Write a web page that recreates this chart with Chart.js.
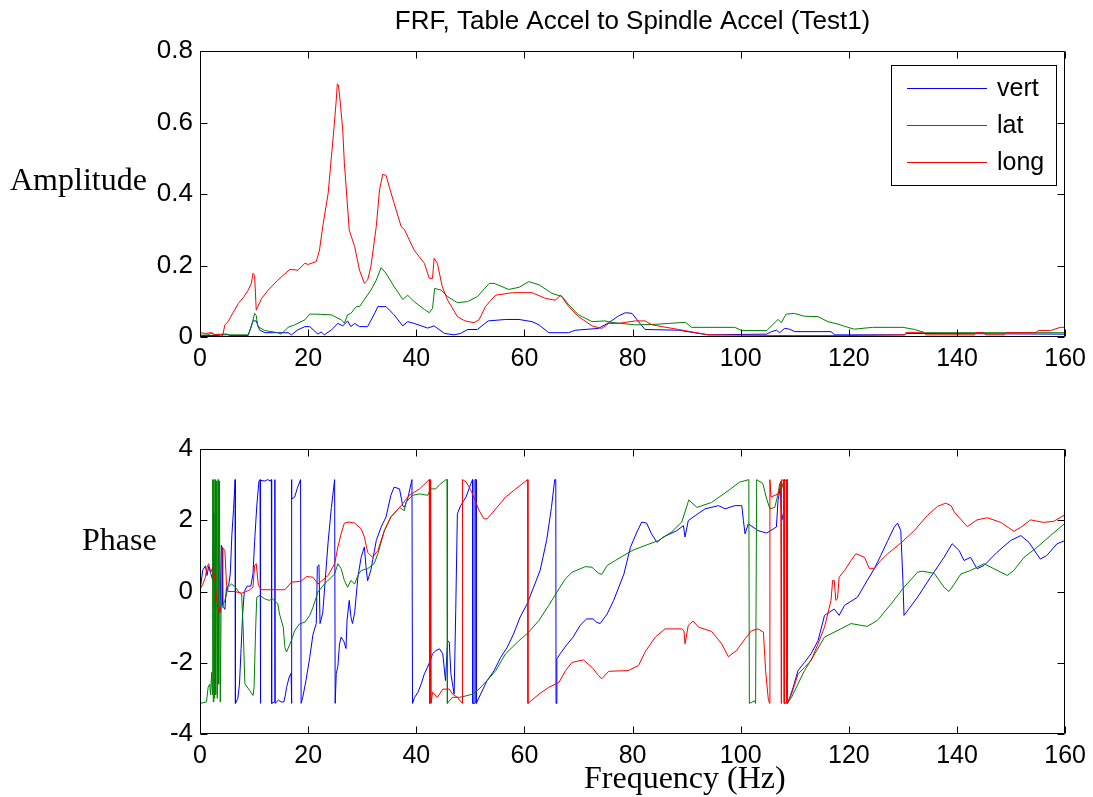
<!DOCTYPE html>
<html>
<head>
<meta charset="utf-8">
<script src="https://cdn.jsdelivr.net/npm/chart.js@4.4.1/dist/chart.umd.min.js"></script>
<style>
  html, body { margin: 0; padding: 0; background: #fff; }
  #wrap { position: relative; width: 1093px; height: 797px; overflow: hidden; background: #fff; }
  canvas { position: absolute; left: 0; }
  #c1 { top: 0; }
  #c2 { top: 400px; }
</style>
</head>
<body>
<div id="wrap">
  <canvas id="c1" width="1093" height="400"></canvas>
  <canvas id="c2" width="1093" height="397"></canvas>
</div>
<script>
// ---------- texts ----------
const chartTitle = 'FRF, Table Accel to Spindle Accel (Test1)';
const ampLabel = 'Amplitude';
const phaseLabel = 'Phase';
const freqLabel = 'Frequency (Hz)';
const seriesNames = ['vert', 'lat', 'long'];
const seriesColors = ['#0000ff', '#008000', '#ff0000'];

// ---------- axis ticks ----------
const freqTicks = [0, 20, 40, 60, 80, 100, 120, 140, 160];
const ampTicks = [0, 0.2, 0.4, 0.6, 0.8];
const phaseTicks = [-4, -2, 0, 2, 4];

// ---------- amplitude readings [Hz, amplitude] ----------
const ampVert = [[0,0.004],[3.5,0.004],[4.0,0.008],[5.0,0.008],[5.5,0.004],[8.9,0.004],[9.8,0.045],[10.4,0.045],[11.0,0.020],[12.0,0.012],[16.3,0.012],[16.9,0.006],[18.1,0.020],[19.4,0.029],[20.3,0.029],[21.8,0.008],[22.4,0.014],[23.0,0.006],[24.3,0.020],[25.5,0.038],[26.4,0.031],[27.3,0.045],[27.9,0.029],[28.6,0.038],[29.5,0.029],[31.0,0.029],[32.3,0.066],[32.9,0.085],[34.4,0.085],[35.9,0.062],[37.5,0.031],[38.4,0.043],[39.6,0.038],[42.1,0.025],[43.3,0.031],[45.2,0.010],[47.0,0.006],[48.2,0.010],[49.5,0.021],[51.3,0.021],[53.3,0.045],[56.5,0.049],[59.0,0.049],[61.4,0.043],[62.7,0.034],[64.5,0.012],[68.2,0.012],[69.4,0.019],[73.7,0.024],[75.6,0.040],[77.4,0.059],[78.7,0.068],[79.9,0.066],[81.1,0.043],[82.3,0.021],[88.5,0.019],[94.0,0.006],[104.8,0.008],[105.7,0.015],[106.6,0.019],[107.2,0.012],[108.1,0.024],[109.0,0.022],[110.0,0.015],[116.7,0.015],[117.4,0.006],[130.3,0.006],[130.6,0.010],[160,0.008]];
const ampLat = [[0,0.005],[1.5,0.006],[2.2,0.012],[2.8,0.006],[8.9,0.006],[9.5,0.029],[10.1,0.066],[10.4,0.060],[10.7,0.029],[12.0,0.018],[14.4,0.012],[15.0,0.008],[16.3,0.027],[17.5,0.034],[19.4,0.048],[20.3,0.064],[21.5,0.064],[24.3,0.062],[26.1,0.048],[26.7,0.039],[27.3,0.062],[27.9,0.066],[28.9,0.085],[29.5,0.085],[31.6,0.131],[32.6,0.159],[33.5,0.194],[34.4,0.178],[35.9,0.141],[37.5,0.105],[38.4,0.117],[39.6,0.099],[41.5,0.077],[42.4,0.068],[43.0,0.080],[43.4,0.136],[44.6,0.131],[45.8,0.113],[47.6,0.096],[49.5,0.099],[51.3,0.113],[53.5,0.150],[54.4,0.150],[57.1,0.133],[59.0,0.139],[60.8,0.155],[62.7,0.146],[65.1,0.122],[67.0,0.113],[68.2,0.090],[70.0,0.062],[72.5,0.043],[74.9,0.045],[76.0,0.041],[80.5,0.034],[84.9,0.036],[86.6,0.038],[89.8,0.041],[90.9,0.027],[98.9,0.027],[100.2,0.018],[104.8,0.018],[106.9,0.049],[107.5,0.040],[108.4,0.064],[109.9,0.066],[111.8,0.058],[114.3,0.057],[116.1,0.043],[118.0,0.036],[119.8,0.027],[121.0,0.022],[124.4,0.027],[130.0,0.027],[132.2,0.021],[134.0,0.012],[160,0.012]];
const ampLong = [[0,0.012],[1,0.010],[2,0.012],[2.5,0.006],[3.5,0.008],[4.2,0.004],[4.6,0.034],[5.2,0.043],[6.0,0.065],[7.1,0.094],[8.0,0.110],[8.9,0.131],[9.5,0.150],[9.8,0.178],[10.1,0.172],[10.4,0.075],[10.7,0.085],[11.4,0.108],[12.6,0.131],[14.4,0.159],[16.6,0.189],[18.1,0.187],[19.4,0.206],[20.0,0.203],[21.5,0.211],[22.1,0.243],[22.7,0.309],[23.7,0.402],[24.3,0.504],[24.8,0.588],[25.2,0.663],[25.4,0.708],[25.6,0.705],[25.9,0.663],[26.4,0.579],[26.7,0.486],[27.2,0.383],[27.6,0.299],[28.6,0.253],[29.5,0.187],[30.4,0.150],[31.0,0.159],[31.6,0.197],[32.6,0.309],[33.2,0.411],[33.8,0.455],[34.4,0.452],[35.0,0.420],[35.9,0.374],[37.2,0.309],[37.8,0.301],[39.6,0.243],[41.5,0.206],[42.4,0.164],[43.0,0.164],[43.3,0.220],[43.9,0.206],[44.8,0.141],[45.8,0.103],[47.6,0.057],[49.0,0.045],[50.7,0.040],[51.6,0.048],[52.8,0.085],[53.8,0.103],[54.7,0.117],[57.8,0.124],[61.4,0.124],[63.9,0.108],[65.7,0.103],[66.7,0.117],[68.2,0.085],[70.0,0.057],[72.5,0.031],[74.3,0.024],[75.6,0.038],[77.4,0.038],[80.5,0.045],[82.3,0.045],[83.6,0.034],[88.5,0.021],[94.0,0.006],[100,0.005],[110,0.004],[120,0.004],[130.3,0.006],[130.6,0.013],[133.9,0.013],[134.2,0.006],[143.2,0.006],[143.5,0.012],[145.0,0.012],[145.3,0.006],[148.7,0.006],[149.0,0.012],[154.5,0.012],[155.0,0.018],[157.3,0.018],[159.1,0.027],[160,0.027]];

// ---------- phase readings [Hz, rad] ----------
const phaseVert = [[0,0],[0.5,0.6],[1.0,0.72],[1.3,0.45],[1.6,0.7],[2.0,0.5],[2.4,0.3],[2.55,2.2],[2.65,-0.5],[3.1,-0.4],[3.5,-0.45],[3.7,-0.6],[3.95,1.3],[4.1,1.2],[4.2,-0.4],[4.6,-0.5],[4.9,0.12],[5.3,0.17],[5.6,0.5],[5.9,1.6],[6.2,2.3],[6.5,3.14],[6.55,-3.14],[7.0,-3.0],[7.3,-2.6],[7.6,-1.6],[7.9,-0.6],[8.2,0.0],[8.7,0.15],[9.4,0.15],[9.8,0.5],[10.1,1.4],[10.5,2.4],[10.9,3.1],[11.1,3.14],[11.15,-3.14],[11.25,3.12],[12.0,3.1],[12.5,3.14],[13.1,3.1],[13.2,3.14],[13.25,-3.14],[13.8,-3.1],[13.85,3.14],[13.9,-3.14],[14.5,-3.05],[15.0,-3.1],[15.5,-3.1],[15.8,-2.9],[16.0,-2.7],[16.5,-2.4],[16.85,-2.3],[16.9,-3.14],[16.95,3.14],[17.0,2.6],[17.5,2.65],[18.0,2.9],[18.6,3.14],[18.7,-3.14],[19.0,-2.97],[19.6,-2.5],[20.3,-1.85],[20.9,-1.2],[21.5,-0.9],[21.7,0.7],[22.0,0.75],[22.2,-0.9],[22.7,-0.6],[23.2,0.4],[23.7,1.4],[24.3,2.36],[24.9,3.14],[25.0,-3.14],[25.2,-2.3],[25.5,-2.1],[25.8,-1.47],[26.1,-1.28],[26.6,-1.4],[27.0,-1.6],[27.2,-0.8],[27.6,-0.25],[27.9,-0.7],[28.2,-0.9],[28.6,-0.6],[29.2,0.4],[29.8,0.96],[30.4,1.25],[30.7,0.7],[31.0,0.3],[31.6,0.6],[32.6,1.43],[33.5,1.81],[34.4,2.09],[35.3,2.7],[35.9,2.93],[36.9,2.88],[37.5,2.4],[37.8,2.36],[38.4,2.6],[39.2,3.14],[39.3,-3.14],[39.7,-2.97],[40.3,-2.83],[40.9,-2.6],[41.5,-2.31],[42.1,-2.12],[42.7,-1.89],[43.0,-1.75],[43.6,-1.66],[44.3,-1.61],[44.9,-1.75],[45.4,-2.5],[45.8,-1.38],[46.1,-1.42],[46.4,-2.31],[47.0,-2.88],[47.3,-0.5],[47.6,2.18],[48.2,2.41],[49.2,2.65],[50.1,3.03],[50.4,3.14],[50.45,-3.14],[50.8,-3.14],[50.85,3.14],[51.05,3.14],[51.1,-3.14],[51.9,-2.88],[53.1,-2.5],[54.4,-2.22],[55.6,-1.85],[56.8,-1.57],[58.0,-1.19],[59.2,-0.72],[60.5,-0.35],[61.7,0.12],[62.9,0.59],[64.1,1.43],[65.0,2.36],[65.6,3.14],[65.8,3.14],[65.85,-3.14],[66.0,-1.89],[66.6,-1.75],[67.8,-1.5],[69.0,-1.28],[70.3,-0.95],[71.5,-0.77],[72.7,-0.77],[73.3,-0.86],[74.0,-0.9],[75.3,-0.63],[76.5,-0.25],[78.4,0.49],[79.6,1.24],[80.8,1.67],[81.7,1.95],[82.6,1.92],[83.5,1.62],[84.5,1.38],[85.7,1.53],[88.2,1.71],[89.4,1.85],[89.7,1.53],[90.3,1.99],[91.6,2.13],[93.4,2.32],[95.9,2.41],[97.1,2.32],[98.9,2.41],[100.2,2.41],[100.5,1.99],[100.8,1.62],[101.4,1.9],[103.2,1.71],[104.8,1.64],[106.6,1.81],[106.9,2.55],[107.3,2.9],[107.6,2.0],[107.9,2.2],[108.0,3.14],[108.05,-3.14],[108.8,-3.1],[109.7,-2.69],[110.6,-2.22],[111.8,-1.99],[113.0,-1.75],[114.3,-1.38],[115.5,-0.67],[117.3,-0.49],[118.2,-0.67],[119.2,-0.39],[121.6,-0.16],[123.4,0.31],[124.7,0.64],[125.9,1.01],[127.2,1.43],[128.4,1.81],[129.0,1.92],[129.6,1.71],[130.0,0.31],[130.2,-0.67],[130.8,-0.55],[132.7,-0.16],[135.1,0.40],[137.6,0.96],[139.1,1.34],[140.4,1.15],[141.3,0.87],[142.5,0.96],[143.7,0.64],[145.0,0.73],[147.4,1.10],[149.9,1.43],[151.8,1.57],[153.3,1.38],[155.4,0.91],[156.6,1.01],[158.5,1.34],[160,1.43]];
const phaseLat = [[0,3.14],[0.05,-3.14],[1.2,-3.1],[1.5,-2.69],[1.8,-2.6],[1.95,-2.9],[2.15,-2.27],[2.3,-2.9],[2.35,3.14],[2.45,-3.1],[2.55,3.14],[2.7,-3.0],[2.8,3.14],[2.9,-2.9],[3.1,3.1],[3.2,-3.0],[3.35,3.14],[3.45,-2.6],[3.6,3.1],[3.75,-3.1],[3.9,-0.5],[4.6,-0.25],[5.2,0.12],[5.8,0.21],[6.4,0.15],[7.1,0.0],[7.7,-0.07],[8.0,-1.1],[8.3,-2.59],[9.2,-2.78],[9.8,-2.92],[10.0,-2.7],[10.3,-1.0],[10.5,-0.16],[11.1,-0.11],[11.9,-0.2],[12.8,-0.25],[13.4,-0.2],[14.0,-0.3],[14.4,-0.35],[14.7,-0.63],[15.4,-1.0],[15.7,-1.57],[16.0,-1.70],[16.9,-1.38],[17.5,-1.1],[18.4,-0.91],[19.4,-0.86],[20.3,-0.67],[20.9,-0.44],[21.8,-0.02],[23.0,0.21],[24.9,0.49],[25.5,0.78],[26.1,0.64],[26.7,0.31],[27.3,0.12],[27.9,0.31],[28.6,0.21],[29.2,0.45],[29.8,0.59],[31.0,0.64],[32.2,0.78],[32.9,1.06],[34.1,1.71],[35.3,2.09],[36.9,2.36],[37.8,2.27],[38.1,2.51],[39.3,2.70],[40.6,2.74],[42.1,2.70],[42.7,2.88],[43.6,2.88],[44.3,3.0],[45.5,3.14],[45.7,3.14],[45.75,-3.14],[46.7,-2.97],[48.0,-2.97],[49.2,-2.93],[50.4,-2.88],[51.6,-2.74],[53.1,-2.50],[54.7,-2.22],[56.5,-1.75],[59.0,-1.38],[60.8,-1.14],[62.7,-0.81],[64.5,-0.39],[66.4,0.08],[67.6,0.36],[68.8,0.54],[71.3,0.70],[72.5,0.68],[73.7,0.51],[74.3,0.48],[75.3,0.73],[76.8,0.87],[79.9,1.15],[82.3,1.29],[84.8,1.43],[87.2,1.67],[89.1,1.95],[90.4,2.57],[91.9,2.36],[94.6,2.5],[97.7,2.83],[99.8,3.07],[101.5,3.14],[101.6,-3.14],[102.6,-3.07],[102.75,-3.14],[102.95,3.14],[104.1,3.03],[104.7,2.65],[105.4,2.32],[106.3,2.36],[106.9,2.74],[107.2,3.03],[107.6,2.9],[108.0,3.14],[108.05,-3.14],[108.1,3.14],[108.55,3.1],[108.6,-3.14],[109.4,-2.97],[111.8,-2.22],[113.7,-1.75],[115.5,-1.28],[117.3,-1.14],[118.5,-1.05],[120.4,-0.9],[123.4,-0.98],[125.3,-0.81],[127.8,-0.35],[130.2,0.12],[132.7,0.54],[133.6,0.57],[135.8,0.51],[137.6,0.12],[138.5,0.0],[139.5,0.21],[140.7,0.49],[142.5,0.59],[145.0,0.78],[146.8,0.64],[149.3,0.45],[150.5,0.59],[152.4,0.96],[154.8,1.24],[157.3,1.57],[160,1.92]];
const phaseLong = [[0,0.05],[0.5,0.2],[1.0,0.4],[1.3,0.68],[1.6,0.78],[2.0,0.54],[2.4,0.7],[2.8,0.3],[3.1,-0.25],[3.4,-0.55],[3.7,-0.58],[4.0,-0.35],[4.1,1.25],[4.6,1.15],[4.9,0.21],[5.2,0.0],[6.5,0.0],[7.7,-0.05],[9.0,0.03],[9.8,0.12],[10.1,0.73],[10.4,0.78],[10.8,0.17],[11.4,0.05],[15.7,0.05],[16.9,0.26],[18.7,0.29],[19.7,0.42],[20.9,0.40],[21.8,0.21],[23.7,0.45],[24.9,0.78],[25.5,1.25],[26.1,1.62],[26.7,1.92],[27.6,1.95],[28.6,1.92],[29.8,1.76],[30.4,1.53],[31.0,1.1],[31.9,0.96],[32.9,1.15],[34.1,1.71],[35.3,2.09],[37.2,2.41],[38.7,2.70],[40.6,2.88],[42.4,3.14],[42.45,-3.14],[42.55,3.14],[42.6,-3.14],[42.7,3.14],[42.75,-3.14],[43.0,-2.83],[43.9,-2.97],[44.9,-2.74],[46.1,-2.74],[46.7,-2.88],[47.6,-2.97],[48.5,-3.14],[48.55,3.14],[49.2,3.08],[50.1,2.84],[51.0,2.51],[51.6,2.28],[52.5,2.04],[53.1,2.04],[54.7,2.32],[56.5,2.65],[58.4,2.88],[60.6,3.14],[60.65,-3.14],[62.7,-2.88],[64.5,-2.69],[66.4,-2.55],[67.6,-2.22],[68.8,-1.99],[70.9,-1.92],[72.5,-2.13],[73.7,-2.36],[74.3,-2.45],[75.6,-2.24],[79.2,-2.22],[81.1,-2.08],[82.3,-1.70],[84.2,-1.28],[86.0,-1.05],[89.1,-1.05],[89.5,-1.1],[89.7,-1.47],[90.3,-0.95],[91.2,-0.83],[92.2,-1.0],[94.6,-1.12],[96.5,-1.47],[97.7,-1.83],[99.2,-1.66],[100.8,-1.33],[102.0,-1.10],[103.2,-1.05],[104.2,-1.14],[104.6,-2.22],[105.1,-3.02],[105.35,-3.14],[105.4,3.14],[105.6,2.65],[106.9,2.74],[107.2,2.9],[107.4,3.1],[107.5,-3.14],[107.55,3.14],[108.0,3.1],[108.05,-3.14],[108.1,3.14],[108.4,3.1],[108.45,-3.14],[108.5,3.14],[108.6,3.14],[108.65,-3.14],[109.4,-2.88],[110.6,-2.32],[111.8,-2.13],[113.0,-1.94],[114.3,-1.47],[115.5,-1.0],[116.7,-0.25],[117.0,0.31],[117.3,0.31],[117.6,-0.25],[117.9,-0.2],[118.2,0.4],[119.2,0.59],[120.4,0.87],[121.3,1.06],[122.9,0.96],[123.8,0.64],[124.7,0.64],[125.9,0.87],[127.2,1.06],[129.6,1.36],[132.1,1.71],[134.5,2.13],[136.4,2.39],[137.9,2.48],[138.9,2.41],[139.5,2.23],[141.9,1.82],[143.7,2.01],[145.6,2.07],[148.1,1.94],[150.5,1.69],[151.8,1.80],[153.6,2.01],[156.0,1.94],[157.9,1.97],[160,2.16]];

// ---------- rendering ----------
const SANS = "'Liberation Sans', Arial, sans-serif";
const SERIF = "'Liberation Serif', 'Times New Roman', serif";
Chart.defaults.font.family = SANS;
Chart.defaults.color = '#000';

const toPts = arr => arr.map(p => ({ x: p[0], y: p[1] }));
function makeSets(list) {
  return list.map((arr, i) => ({
    label: seriesNames[i],
    data: toPts(arr),
    borderColor: seriesColors[i],
    backgroundColor: seriesColors[i],
    borderWidth: 1,
    pointRadius: 0,
    tension: 0,
    fill: false,
    order: 3 - i
  }));
}

// Box around the axes with inward ticks on all four sides (MATLAB style)
const framePlugin = {
  id: 'frame',
  afterDatasetsDraw(chart) {
    const { ctx, chartArea: a, scales } = chart;
    const x = scales.x, y = scales.y;
    ctx.save();
    ctx.strokeStyle = '#000';
    ctx.lineWidth = 1;
    ctx.beginPath();
    const L = Math.round(a.left) + 0.5, R = Math.round(a.right) - 0.5;
    const T = Math.round(a.top) + 0.5, B = Math.round(a.bottom) - 0.5;
    ctx.rect(L, T, R - L, B - T);
    const tl = 7;
    x.ticks.forEach(t => {
      const px = Math.round(x.getPixelForValue(t.value)) + 0.5;
      ctx.moveTo(px, B); ctx.lineTo(px, B - tl);
      ctx.moveTo(px, T); ctx.lineTo(px, T + tl);
    });
    y.ticks.forEach(t => {
      const py = Math.round(y.getPixelForValue(t.value)) + 0.5;
      ctx.moveTo(L, py); ctx.lineTo(L + tl, py);
      ctx.moveTo(R, py); ctx.lineTo(R - tl, py);
    });
    ctx.stroke();
    ctx.restore();
  }
};

// Free-standing horizontal labels (MATLAB ylabel/xlabel look)
const labelPlugin = {
  id: 'labels',
  afterDraw(chart, args, opts) {
    const { ctx } = chart;
    ctx.save();
    ctx.fillStyle = '#000';
    ctx.textBaseline = 'alphabetic';
    ctx.textAlign = 'left';
    (opts.items || []).forEach(it => {
      ctx.font = it.font;
      ctx.fillText(it.text, it.x, it.y);
    });
    ctx.restore();
  }
};

// Boxed legend inside the top axes
const boxLegendPlugin = {
  id: 'boxLegend',
  afterDraw(chart, args, opts) {
    if (!opts.show) return;
    const { ctx } = chart;
    ctx.save();
    ctx.fillStyle = '#fff';
    ctx.fillRect(opts.x, opts.y, opts.w, opts.h);
    ctx.strokeStyle = '#000';
    ctx.lineWidth = 1;
    ctx.strokeRect(opts.x + 0.5, opts.y + 0.5, opts.w, opts.h);
    ctx.font = '25px ' + SANS;
    ctx.textBaseline = 'middle';
    ctx.textAlign = 'left';
    chart.data.datasets.forEach((ds, i) => {
      const ry = opts.rows[i];
      ctx.strokeStyle = ds.borderColor;
      ctx.beginPath();
      ctx.moveTo(opts.x + 16, ry + 0.5);
      ctx.lineTo(opts.x + 96, ry + 0.5);
      ctx.stroke();
      ctx.fillStyle = '#000';
      ctx.fillText(ds.label, opts.x + 106, ry + 1);
    });
    ctx.restore();
  }
};

function baseOptions(yMin, yMax, yTickVals) {
  return {
    responsive: false,
    animation: false,
    devicePixelRatio: 1,
    events: [],
    layout: { padding: { left: 0, right: 25, top: 0, bottom: 0 } },
    plugins: {
      legend: { display: false },
      tooltip: { enabled: false },
      title: { display: false }
    },
    scales: {
      x: {
        type: 'linear', min: freqTicks[0], max: freqTicks[freqTicks.length - 1],
        afterBuildTicks: s => { s.ticks = freqTicks.map(v => ({ value: v })); },
        ticks: { font: { size: 25 }, color: '#000', padding: 7, maxRotation: 0, autoSkip: false },
        grid: { display: false, drawTicks: false },
        border: { display: false },
        afterFit: s => { s.height = 63; }
      },
      y: {
        type: 'linear', min: yMin, max: yMax,
        afterBuildTicks: s => { s.ticks = yTickVals.map(v => ({ value: v })); },
        ticks: { font: { size: 26 }, color: '#000', padding: 7, autoSkip: false,
                 callback: v => String(v) },
        grid: { display: false, drawTicks: false },
        border: { display: false },
        afterFit: s => { s.width = 200; }
      }
    }
  };
}

// Top: amplitude
const opt1 = baseOptions(0, 0.8, ampTicks);
opt1.plugins.title = {
  display: true, text: chartTitle, color: '#000', fullSize: false,
  font: { size: 26, weight: 'normal', family: SANS, lineHeight: 1.2 },
  padding: { top: 6.4, bottom: 13.4 }
};
opt1.plugins.labels = { items: [{ text: ampLabel, x: 10, y: 190, font: '32px ' + SERIF }] };
opt1.plugins.boxLegend = { show: true, x: 891, y: 65, w: 165, h: 120, rows: [88, 125, 162] };
new Chart(document.getElementById('c1'), {
  type: 'line',
  data: { datasets: makeSets([ampVert, ampLat, ampLong]) },
  options: opt1,
  plugins: [framePlugin, labelPlugin, boxLegendPlugin]
});

// Bottom: phase
const opt2 = baseOptions(-4, 4, phaseTicks);
opt2.layout.padding.top = 49;
opt2.plugins.labels = { items: [
  { text: phaseLabel, x: 82, y: 150, font: '32px ' + SERIF },
  { text: freqLabel, x: 584, y: 388, font: '32px ' + SERIF }
] };
opt2.plugins.boxLegend = { show: false };
new Chart(document.getElementById('c2'), {
  type: 'line',
  data: { datasets: makeSets([phaseVert, phaseLat, phaseLong]) },
  options: opt2,
  plugins: [framePlugin, labelPlugin, boxLegendPlugin]
});
</script>
</body>
</html>
